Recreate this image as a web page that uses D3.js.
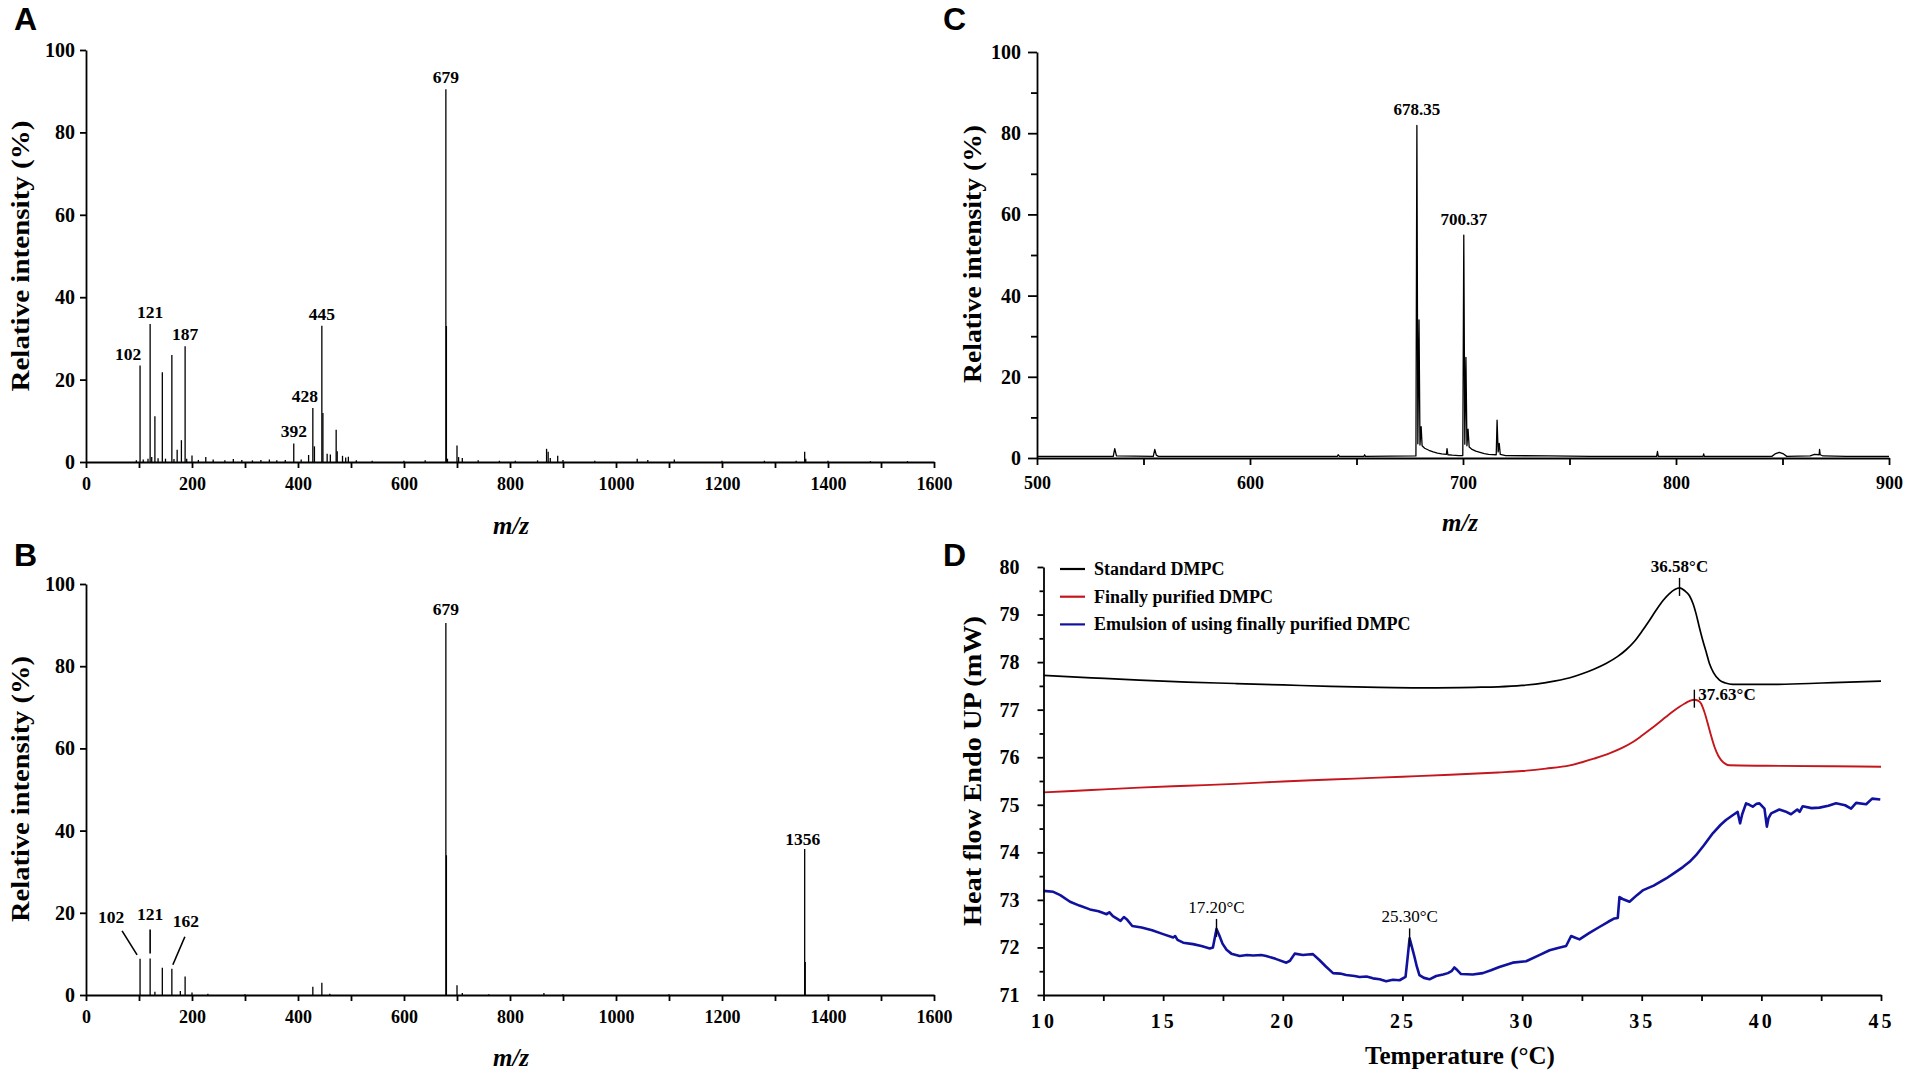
<!DOCTYPE html>
<html>
<head>
<meta charset="utf-8">
<script src="https://cdn.jsdelivr.net/npm/d3@7"></script>
<style>
  body { margin: 0; background: #fff; }
  svg { display: block; }
  .ax path, .ax line { stroke: #000; stroke-width: 1.8; }
  .ax text { font-family: "Liberation Serif", "Times New Roman", serif; font-weight: bold; fill: #000; }
</style>
</head>
<body>
<svg id="fig"></svg>
<script>
// ---------- data ----------
// A: MS of crude product, sticks [m/z, relative intensity %]
const specA = [
  [95,0.4],[102,23.4],[108,0.6],[117,0.8],[121,33.5],[124,1.2],[130,11.1],[136,0.9],[144,21.8],[150,0.8],
  [162,26.0],[166,0.7],[172,3.0],[180,5.3],[187,28.1],[190,0.8],[200,1.6],[212,0.5],[226,1.2],[240,0.6],
  [262,0.4],[278,0.7],[294,0.5],[314,0.4],[330,0.5],[346,0.6],[360,0.4],[376,0.5],[392,4.5],[406,0.6],
  [420,1.7],[428,13.1],[431,3.8],[445,33.1],[447,11.9],[455,2.0],[461,1.8],[472,7.8],[474,2.6],[484,1.5],
  [490,1.1],[495,1.3],[510,0.4],[540,0.3],[600,0.3],[640,0.4],[679,90.5],[680,33.0],[682,0.8],[700,4.0],
  [703,1.2],[710,1.0],[740,0.4],[780,0.3],[810,0.3],[852,0.4],[869,3.2],[872,2.5],[876,1.0],[890,1.5],
  [900,0.5],[960,0.3],[1040,0.8],[1060,0.5],[1110,0.6],[1200,0.3],[1280,0.3],[1340,0.3],[1356,2.5],
  [1358,0.8],[1400,0.3],[1480,0.2],[1550,0.2]
];
const labelsA = [102, 121, 187, 392, 428, 445, 679];

// B: MS of purified product
const specB = [
  [102,8.8],[121,8.9],[130,0.8],[144,6.6],[162,6.4],[178,1.0],[187,4.5],[200,0.6],[230,0.3],[300,0.2],
  [428,2.0],[445,3.0],[460,0.3],[679,90.5],[680,34.0],[700,2.4],[710,0.5],[760,0.2],[864,0.5],[900,0.2],
  [1100,0.2],[1356,35.5],[1357,8.0],[1400,0.2]
];
const labelsB = [102, 121, 162, 679, 1356];

// C: high resolution MS profile [m/z, relative intensity %]
const specC = [
  [500,0.4],[520,0.4],[535.8,0.4],[536.5,2.3],[537.3,0.5],[554.6,0.4],[555.3,2.1],[556.0,0.7],[557,0.4],
  [600,0.4],[641,0.4],[641.4,0.8],[642,0.4],[653.5,0.4],[653.8,0.8],[654.2,0.4],[677.9,0.5],[678.35,81.9],
  [678.8,3.5],[679.35,34.0],[679.8,3.2],[680.35,7.7],[680.8,3.0],[682,2.4],[684,1.9],[686,1.5],[688,1.2],
  [690,1.0],[692.2,0.9],[692.5,2.3],[692.9,0.8],[695,0.7],[698,0.6],[699.9,0.6],[700.37,54.9],[700.85,3.4],
  [701.37,24.8],[701.85,3.0],[702.37,7.1],[702.9,2.7],[704,2.2],[706,1.7],[708,1.4],[710,1.1],[712,0.9],
  [715.6,0.8],[716.0,9.3],[716.5,1.5],[717.0,3.6],[717.5,0.9],[720,0.6],[740,0.5],[760,0.4],[790.9,0.4],
  [791.3,1.6],[791.7,0.4],[812.7,0.4],[813,1.0],[813.3,0.4],[845,0.4],[846.5,1.0],[848.5,1.4],[850.5,1.0],
  [852,0.4],[863,0.5],[865,0.9],[867.2,0.8],[867.4,2.1],[867.7,0.8],[869,0.5],[880,0.4],[900,0.4]
];
const labelsC = [[678.35,'678.35'], [700.37,'700.37']];

// D: DSC curves [temperature °C, heat flow mW]
const dscStandard = [
  [10,77.72],[12,77.67],[14,77.62],[16,77.58],[18,77.55],[20,77.52],[22,77.49],[24,77.47],[26,77.46],[28,77.47],
  [29,77.48],[30,77.51],[31,77.57],[32,77.67],[32.54,77.76],[33,77.85],[33.51,77.97],[34,78.12],[34.35,78.26],
  [34.7,78.44],[35.04,78.67],[35.3,78.86],[35.6,79.09],[35.9,79.3],[36.16,79.44],[36.4,79.53],[36.58,79.56],
  [36.8,79.5],[36.99,79.4],[37.15,79.22],[37.27,79.02],[37.4,78.75],[37.55,78.46],[37.7,78.2],[37.83,77.97],
  [38.0,77.78],[38.25,77.62],[38.5,77.56],[38.8,77.53],[40.2,77.53],[42,77.55],[43,77.57],[45,77.6]
];
const dscPurified = [
  [10,75.26],[12,75.31],[14,75.36],[16,75.4],[18,75.44],[20,75.49],[22,75.53],[24,75.57],[25,75.59],[27,75.63],
  [29,75.68],[30,75.71],[31,75.76],[32,75.83],[32.54,75.9],[33,75.97],[33.65,76.08],[34.2,76.2],[34.63,76.32],
  [35,76.45],[35.32,76.57],[35.7,76.72],[36.02,76.85],[36.3,76.96],[36.58,77.06],[36.8,77.13],[36.99,77.18],
  [37.2,77.21],[37.35,77.19],[37.48,77.13],[37.62,76.95],[37.76,76.71],[37.9,76.45],[38.04,76.22],[38.2,76.03],
  [38.32,75.94],[38.5,75.86],[38.66,75.83],[40.2,75.82],[43,75.81],[45,75.8]
];
const dscEmulsion = [
  [10,73.19],[10.41,73.17],[10.7,73.1],[11.11,72.96],[11.5,72.88],[11.94,72.8],[12.3,72.76],[12.64,72.7],
  [12.75,72.74],[12.9,72.66],[13.22,72.56],[13.36,72.64],[13.5,72.58],[13.71,72.45],[14.1,72.42],[14.54,72.36],
  [15.0,72.28],[15.42,72.21],[15.5,72.24],[15.6,72.16],[15.84,72.1],[16.25,72.07],[16.6,72.03],[16.95,71.98],
  [17.08,72.0],[17.23,72.39],[17.35,72.25],[17.48,72.08],[17.65,71.95],[17.85,71.87],[18.2,71.82],[18.5,71.84],
  [18.76,71.83],[19.1,71.84],[19.31,71.82],[19.7,71.76],[20.15,71.68],[20.3,71.72],[20.5,71.87],[20.84,71.84],
  [21.05,71.85],[21.26,71.86],[21.54,71.73],[21.8,71.6],[22.1,71.46],[22.4,71.45],[22.65,71.42],[23.0,71.4],
  [23.21,71.38],[23.5,71.39],[23.77,71.35],[24.05,71.33],[24.32,71.29],[24.6,71.32],[24.88,71.31],[25.13,71.38],
  [25.22,71.8],[25.3,72.19],[25.4,72.0],[25.5,71.81],[25.6,71.6],[25.71,71.42],[25.9,71.36],[26.13,71.33],
  [26.41,71.4],[26.7,71.43],[26.9,71.46],[27.05,71.5],[27.17,71.58],[27.3,71.52],[27.45,71.44],[27.94,71.43],
  [28.36,71.46],[28.7,71.52],[29.05,71.59],[29.61,71.68],[30.17,71.71],[30.72,71.84],[31.15,71.94],[31.5,71.99],
  [31.84,72.03],[32.05,72.24],[32.2,72.21],[32.4,72.17],[32.8,72.3],[33.23,72.43],[33.6,72.54],[33.86,72.61],
  [34.0,72.62],[34.07,73.06],[34.2,73.02],[34.49,72.96],[34.8,73.1],[35.04,73.2],[35.5,73.3],[36.02,73.45],
  [36.4,73.58],[36.72,73.69],[37.0,73.8],[37.27,73.94],[37.6,74.15],[37.97,74.4],[38.3,74.58],[38.52,74.68],
  [38.8,74.78],[39.01,74.85],[39.11,74.61],[39.2,74.8],[39.36,75.03],[39.5,75.0],[39.64,74.96],[39.8,75.02],
  [39.92,75.03],[40.13,74.92],[40.23,74.54],[40.3,74.72],[40.41,74.82],[40.75,74.9],[41.0,74.86],[41.24,74.8],
  [41.5,74.9],[41.6,74.85],[41.73,74.97],[42.1,74.93],[42.43,74.94],[42.8,74.98],[43.12,75.03],[43.5,74.99],
  [43.75,74.92],[43.96,75.04],[44.38,75.01],[44.63,75.13],[44.97,75.11]
];
const dscNames = ['Standard DMPC', 'Finally purified DMPC', 'Emulsion of using finally purified DMPC'];
const dscColors = ['#000000', '#c4161c', '#10129e'];
// peak marks: [series index, search from, search to, text]
const dscPeaks = [[0,35,38,'36.58°C'], [1,36,38.5,'37.63°C'], [2,16.5,18,'17.20°C'], [2,24.5,26,'25.30°C']];

// tick values
const msTicks = d3.range(0, 1601, 200), msMinor = d3.range(100, 1600, 200);
const pctTicks = d3.range(0, 101, 20), pctMinor = d3.range(10, 100, 20);
const cTicks = d3.range(500, 901, 100), cMinor = d3.range(550, 900, 100);
const tTicks = d3.range(10, 46, 5), tMinor = d3.range(12.5, 45, 5);
const hfTicks = d3.range(71, 81, 1), hfMinor = d3.range(71.5, 80, 1);

// ---------- drawing ----------
const serif = '"Liberation Serif","Times New Roman",serif';
const svg = d3.select('#fig').attr('width', 1908).attr('height', 1076);

function drawAxes(x, y, o) {
  const base = y.range()[0], left = x.range()[0];
  if (o.xMinor) {
    svg.append('g').attr('class', 'ax').attr('transform', `translate(0,${base})`)
      .call(d3.axisBottom(x).tickValues(o.xMinor).tickSize(o.xt).tickFormat(''))
      .call(g => g.select('.domain').remove());
  }
  const gx = svg.append('g').attr('class', 'ax').attr('transform', `translate(0,${base})`)
    .call(d3.axisBottom(x).tickValues(o.xMajor).tickSize(o.xt).tickSizeOuter(0).tickPadding(o.xPad).tickFormat(d3.format('d')));
  gx.selectAll('text').attr('font-size', o.xFont).attr('letter-spacing', o.xSpace || 0);
  if (o.yMinor) {
    svg.append('g').attr('class', 'ax').attr('transform', `translate(${left},0)`)
      .call(d3.axisLeft(y).tickValues(o.yMinor).tickSize(o.yMinorT).tickFormat(''))
      .call(g => g.select('.domain').remove());
  }
  const gy = svg.append('g').attr('class', 'ax').attr('transform', `translate(${left},0)`)
    .call(d3.axisLeft(y).tickValues(o.yMajor).tickSize(o.yt).tickSizeOuter(0).tickPadding(o.yPad).tickFormat(d3.format('d')));
  gy.selectAll('text').attr('font-size', o.yFont);
}

function yTitle(text, x, y, len) {
  svg.append('text').attr('transform', `translate(${x},${y}) rotate(-90)`)
    .attr('text-anchor', 'middle').attr('font-family', serif).attr('font-weight', 'bold')
    .attr('font-size', 25).attr('textLength', len).attr('lengthAdjust', 'spacingAndGlyphs').text(text);
}

function xTitle(text, x, y, italic) {
  svg.append('text').attr('x', x).attr('y', y).attr('text-anchor', 'middle')
    .attr('font-family', serif).attr('font-weight', 'bold').attr('font-style', italic ? 'italic' : 'normal')
    .attr('font-size', 25).text(text);
}

function panelLetter(t, x, y) {
  svg.append('text').attr('x', x).attr('y', y).attr('font-family', '"Liberation Sans",Arial,sans-serif')
    .attr('font-weight', 'bold').attr('font-size', 32).text(t);
}

function sticks(data, x, y) {
  svg.append('g').selectAll('line').data(data).join('line')
    .attr('x1', d => x(d[0])).attr('x2', d => x(d[0]))
    .attr('y1', y(0)).attr('y2', d => y(d[1]))
    .attr('stroke', '#000').attr('stroke-width', 1.3);
}

const heightAt = (spec, mz) => d3.max(spec.filter(p => Math.abs(p[0] - mz) < 0.6), p => p[1]);

// ----- Panel A -----
const xA = d3.scaleLinear().domain([0, 1600]).range([86, 934]);
const yA = d3.scaleLinear().domain([0, 100]).range([462, 50]);
sticks(specA, xA, yA);
drawAxes(xA, yA, {xMajor: msTicks, xMinor: msMinor, xt: 6, xPad: 9, xFont: 18,
                  yMajor: pctTicks, yt: 6, yPad: 5, yFont: 20});
const nudgeA = {102: -12, 428: -8};
svg.append('g').selectAll('text').data(labelsA).join('text')
  .attr('x', d => xA(d) + (nudgeA[d] || 0))
  .attr('y', d => yA(heightAt(specA, d)) - 6)
  .attr('text-anchor', 'middle').attr('font-family', serif).attr('font-weight', 'bold')
  .attr('font-size', 17.5).text(d => d);
yTitle('Relative intensity (%)', 29, 256, 271);
xTitle('m/z', 511, 534, true);
panelLetter('A', 14, 30);

// ----- Panel B -----
const xB = d3.scaleLinear().domain([0, 1600]).range([86, 934]);
const yB = d3.scaleLinear().domain([0, 100]).range([995, 584]);
sticks(specB, xB, yB);
drawAxes(xB, yB, {xMajor: msTicks, xMinor: msMinor, xt: 6, xPad: 9, xFont: 18,
                  yMajor: pctTicks, yt: 6, yPad: 5, yFont: 20});
// label offsets and leader lines relative to the peak top
const layoutB = {
  102: {dx: -29, dy: -36, lead: [-18, -28, -3, -4]},
  121: {dx: 0, dy: -38, lead: [0, -29, 0, -5]},
  162: {dx: 14, dy: -42, lead: [13, -32, 1, -4]},
  679: {dx: 0, dy: -8},
  1356: {dx: -2, dy: -4}
};
labelsB.forEach(mz => {
  const px = xB(mz), py = yB(heightAt(specB, mz)), L = layoutB[mz];
  svg.append('text').attr('x', px + L.dx).attr('y', py + L.dy).attr('text-anchor', 'middle')
    .attr('font-family', serif).attr('font-weight', 'bold').attr('font-size', 17.5).text(mz);
  if (L.lead) {
    svg.append('line').attr('x1', px + L.lead[0]).attr('y1', py + L.lead[1])
      .attr('x2', px + L.lead[2]).attr('y2', py + L.lead[3])
      .attr('stroke', '#000').attr('stroke-width', 1.6);
  }
});
yTitle('Relative intensity (%)', 29, 789, 266);
xTitle('m/z', 511, 1066, true);
panelLetter('B', 14, 566);

// ----- Panel C -----
const xC = d3.scaleLinear().domain([500, 900]).range([1037, 1889]);
const yC = d3.scaleLinear().domain([0, 100]).range([458, 52]);
svg.append('path').datum(specC)
  .attr('d', d3.line().x(d => xC(d[0])).y(d => yC(d[1])))
  .attr('fill', 'none').attr('stroke', '#000').attr('stroke-width', 1.3).attr('stroke-linejoin', 'round');
drawAxes(xC, yC, {xMajor: cTicks, xMinor: cMinor, xt: 7, xPad: 11, xFont: 18,
                  yMajor: pctTicks, yMinor: pctMinor, yMinorT: 6, yt: 9, yPad: 7, yFont: 20});
svg.append('g').selectAll('text').data(labelsC).join('text')
  .attr('x', d => xC(d[0])).attr('y', d => yC(heightAt(specC, d[0])) - 10)
  .attr('text-anchor', 'middle').attr('font-family', serif).attr('font-weight', 'bold')
  .attr('font-size', 17).text(d => d[1]);
yTitle('Relative intensity (%)', 981, 254, 258);
xTitle('m/z', 1460, 531, true);
panelLetter('C', 943, 30);

// ----- Panel D -----
const xD = d3.scaleLinear().domain([10, 45]).range([1043.5, 1881]);
const yD = d3.scaleLinear().domain([71, 80]).range([995, 567]);
const dscSeries = [dscStandard, dscPurified, dscEmulsion];
const dscWidth = [1.7, 1.9, 2.6];
const smoothD = d3.line().x(d => xD(d[0])).y(d => yD(d[1])).curve(d3.curveMonotoneX);
const rawD = d3.line().x(d => xD(d[0])).y(d => yD(d[1]));
dscSeries.forEach((s, i) => {
  svg.append('path').datum(s).attr('d', i < 2 ? smoothD : rawD).attr('fill', 'none')
    .attr('stroke', dscColors[i]).attr('stroke-width', dscWidth[i]).attr('stroke-linejoin', 'round');
});
drawAxes(xD, yD, {xMajor: tTicks, xMinor: tMinor, xt: 6, xPad: 13, xFont: 20, xSpace: 3,
                  yMajor: hfTicks, yMinor: hfMinor, yMinorT: 4, yt: 6, yPad: 18, yFont: 20});
// peak markers and temperature labels
dscPeaks.forEach(([si, lo, hi, txt], k) => {
  const pts = dscSeries[si].filter(p => p[0] >= lo && p[0] <= hi);
  const top = pts.reduce((a, b) => (b[1] > a[1] ? b : a));
  const px = xD(top[0]), py = yD(top[1]);
  svg.append('line').attr('x1', px).attr('x2', px).attr('y1', py - 10).attr('y2', py + 8)
    .attr('stroke', '#000').attr('stroke-width', 1.4);
  const side = k === 1;
  svg.append('text').attr('x', side ? px + 4 : px).attr('y', side ? py : py - 16)
    .attr('text-anchor', side ? 'start' : 'middle').attr('font-family', serif)
    .attr('font-weight', k < 2 ? 'bold' : 'normal').attr('font-size', 17).text(txt);
});
// legend
const legD = svg.append('g');
dscNames.forEach((n, i) => {
  const yy = 569 + i * 27.7;
  legD.append('line').attr('x1', 1060).attr('x2', 1085).attr('y1', yy).attr('y2', yy)
    .attr('stroke', dscColors[i]).attr('stroke-width', 2.2);
  legD.append('text').attr('x', 1094).attr('y', yy + 6).attr('font-family', serif)
    .attr('font-weight', 'bold').attr('font-size', 18).text(n);
});
yTitle('Heat flow Endo UP (mW)', 981, 771, 310);
xTitle('Temperature (\u00B0C)', 1460, 1064, false);
panelLetter('D', 943, 566);
</script>
</body>
</html>
